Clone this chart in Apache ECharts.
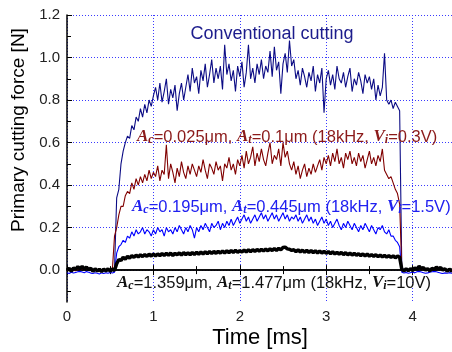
<!DOCTYPE html>
<html>
<head>
<meta charset="utf-8">
<script src="https://cdn.jsdelivr.net/npm/echarts@6/dist/echarts.min.js"></script>
<style>html,body{margin:0;padding:0;background:#fff}#c{width:452px;height:352px}</style>
</head>
<body>
<div id="c"></div>
<script>
// sample times [ms]
const time = [0,0.025,0.05,0.075,0.1,0.125,0.15,0.175,0.2,0.225,0.25,0.275,0.3,0.325,0.35,0.375,0.4,0.425,0.45,0.475,
0.5,0.525,0.55,0.575,0.6,0.625,0.65,0.675,0.7,0.725,0.75,0.775,0.8,0.825,0.85,0.875,0.9,0.925,0.95,0.975,
1,1.025,1.05,1.075,1.1,1.125,1.15,1.175,1.2,1.225,1.25,1.275,1.3,1.325,1.35,1.375,1.4,1.425,1.45,1.475,
1.5,1.525,1.55,1.575,1.6,1.625,1.65,1.675,1.7,1.725,1.75,1.775,1.8,1.825,1.85,1.875,1.9,1.925,1.95,1.975,
2,2.025,2.05,2.075,2.1,2.125,2.15,2.175,2.2,2.225,2.25,2.275,2.3,2.325,2.35,2.375,2.4,2.425,2.45,2.475,
2.5,2.525,2.55,2.575,2.6,2.625,2.65,2.675,2.7,2.725,2.75,2.775,2.8,2.825,2.85,2.875,2.9,2.925,2.95,2.975,
3,3.025,3.05,3.075,3.1,3.125,3.15,3.175,3.2,3.225,3.25,3.275,3.3,3.325,3.35,3.375,3.4,3.425,3.45,3.475,
3.5,3.525,3.55,3.575,3.6,3.625,3.65,3.675,3.7,3.725,3.75,3.775,3.8,3.825,3.85,3.875,3.9,3.925,3.95,3.975,
4,4.025,4.05,4.075,4.1,4.125,4.15,4.175,4.2,4.225,4.25,4.275,4.3,4.325,4.35,4.375,4.4,4.425,4.45,4.475,4.5];

// Conventional cutting
const conventional = [0.002,-0.003,0.004,0.001,-0.002,0.005,0.008,0.006,0.003,0.007,0.004,0.001,-0.002,0.002,0.0,-0.004,0.001,-0.003,0.002,-0.001,0.003,0.0,0.004,
0.34,0.38,0.5,0.56,0.6,0.63,0.62,0.68,0.66,0.72,0.7,0.76,0.72,0.78,0.74,0.8,0.77,0.82,
0.86,0.8,0.88,0.79,0.84,0.9,0.78,0.85,0.81,0.87,0.75,0.83,0.88,0.8,0.86,0.92,
0.84,0.95,0.88,0.91,0.83,0.94,0.89,0.97,0.86,0.92,0.99,0.88,0.95,0.9,0.96,0.85,1.06,0.92,0.97,0.89,0.94,0.84,0.96,0.91,0.98,0.86,0.93,1.06,0.9,0.95,
0.88,0.97,0.92,0.99,0.9,0.96,0.93,1.03,0.91,1.05,0.94,0.98,0.83,0.97,1.02,0.93,1.08,0.96,0.99,0.9,0.94,0.87,0.95,0.91,0.86,0.93,0.89,0.96,0.84,0.92,0.88,0.95,0.74,0.9,
0.94,0.87,0.92,0.85,0.96,0.9,0.88,0.93,0.86,0.91,0.95,0.84,0.9,0.87,0.93,0.89,0.83,0.92,0.88,0.91,0.85,0.9,0.8,0.87,
0.82,0.86,1.02,0.8,0.78,0.8,0.76,0.79,0.77,0.75,
0.01,0.003,-0.002,0.004,0.001,0.005,0.002,0.006,0.009,0.011,0.007,0.004,0.001,0.003,0.005,0.008,0.01,0.007,0.004,0.002,-0.001,0.001,0.003,0.002,0.0,0.001];

// Ac=0.025um, At=0.1um (18kHz, Vi=0.3V)
const vib03 = [0.001,-0.002,0.003,0.0,-0.003,0.004,0.006,0.005,0.002,0.006,0.003,0.0,-0.003,0.001,-0.001,-0.004,0.0,-0.002,0.002,-0.002,0.002,0.0,
0.16,0.2,0.26,0.3,0.3,0.35,0.37,0.36,0.41,0.38,0.43,0.4,0.44,0.41,0.45,0.42,0.47,0.43,0.46,
0.44,0.49,0.42,0.47,0.45,0.59,0.43,0.5,0.46,0.41,0.48,0.44,0.51,0.46,0.43,0.49,0.45,0.5,0.47,0.44,0.49,0.46,0.52,0.47,0.43,0.5,0.48,0.45,0.51,0.47,0.49,0.42,0.5,0.48,0.53,0.47,0.5,0.45,0.52,0.49,
0.54,0.48,0.56,0.5,0.53,0.58,0.49,0.55,0.51,0.57,0.52,0.49,0.55,0.6,0.5,0.54,0.52,0.57,0.49,0.6,0.53,0.56,0.5,
0.47,0.51,0.45,0.49,0.43,0.47,0.5,0.44,0.48,0.45,0.5,0.46,0.49,0.52,0.47,0.53,0.5,
0.54,0.49,0.55,0.51,0.57,0.5,0.53,0.48,0.55,0.52,0.56,0.5,0.53,0.49,0.55,0.51,0.54,0.48,0.52,0.56,0.5,0.53,0.49,0.54,0.51,0.57,0.47,
0.45,0.43,0.44,0.41,0.38,0.36,0.31,
0.002,-0.001,0.003,0.0,0.002,-0.002,0.004,0.007,0.009,0.006,0.003,0.0,-0.002,0.001,0.004,0.006,0.008,0.005,0.002,0.0,-0.002,0.0,0.002,0.001,-0.001,0.0];

// Ac=0.195um, At=0.445um (18kHz, Vi=1.5V)
const vib15 = [-0.012,-0.016,-0.01,-0.014,-0.011,-0.008,-0.006,-0.009,-0.012,-0.007,-0.01,-0.014,-0.016,-0.012,-0.015,-0.018,-0.013,-0.016,-0.012,-0.015,-0.011,-0.014,-0.01,
0.08,0.11,0.12,0.14,0.13,0.16,0.15,0.18,0.16,0.19,0.17,0.18,0.2,0.17,0.19,0.18,0.16,0.19,
0.17,0.2,0.18,0.19,0.16,0.2,0.18,0.19,0.17,0.2,0.18,0.21,0.19,0.17,0.2,0.18,0.21,0.19,0.15,0.2,0.18,0.21,0.19,0.22,0.2,0.18,0.22,0.2,0.21,0.23,0.19,0.22,0.2,0.23,0.21,0.24,
0.21,0.23,0.25,0.22,0.24,0.26,0.23,0.25,0.22,0.24,0.26,0.23,0.25,0.27,0.24,0.26,0.23,0.25,0.27,0.24,0.26,0.23,0.25,0.27,0.24,0.26,0.23,0.25,0.24,0.26,0.23,0.25,0.22,0.24,0.26,0.23,0.25,0.22,0.24,0.21,0.23,0.25,0.22,0.24,
0.21,0.23,0.2,0.22,0.24,0.21,0.19,0.22,0.2,0.23,0.21,0.19,0.22,0.2,0.18,0.21,0.19,0.22,0.2,0.18,0.21,0.19,0.17,0.2,0.19,0.21,0.18,0.17,0.19,0.16,0.16,0.14,0.13,0.11,
-0.01,-0.014,-0.011,-0.015,-0.012,-0.009,-0.013,-0.008,-0.006,-0.009,-0.012,-0.015,-0.013,-0.01,-0.008,-0.006,-0.008,-0.011,-0.014,-0.016,-0.013,-0.015,-0.012,-0.014,-0.016,-0.013];

// Ac=1.359um, At=1.477um (18kHz, Vi=10V)
const vib10 = [0.0,0.008,-0.005,0.01,0.004,0.016,0.006,0.018,0.005,0.014,0.002,0.009,-0.006,0.006,-0.004,0.004,-0.007,0.005,-0.004,0.006,-0.005,0.005,-0.002,
0.03,0.05,0.045,0.06,0.052,0.064,0.057,0.068,0.06,0.07,0.062,0.072,0.064,0.073,0.065,0.075,0.066,0.076,
0.067,0.076,0.068,0.078,0.069,0.079,0.07,0.08,0.069,0.079,0.072,0.081,0.071,0.082,0.073,0.081,0.072,0.083,0.074,0.084,0.075,0.085,0.076,0.086,0.077,0.087,0.078,0.088,0.079,0.089,0.08,0.09,0.081,0.091,0.082,0.092,0.083,0.093,0.084,0.091,
0.085,0.094,0.086,0.095,0.087,0.096,0.088,0.097,0.089,0.098,0.09,0.099,0.091,0.1,0.092,0.101,0.093,0.102,0.096,0.106,0.108,0.1,0.098,0.093,0.096,
0.087,0.095,0.086,0.094,0.084,0.093,0.083,0.092,0.082,0.091,0.081,0.09,0.08,0.089,0.079,0.087,0.077,0.086,0.076,0.084,0.075,0.083,0.073,0.082,0.072,0.08,0.071,0.079,0.07,0.077,0.068,0.076,0.067,0.075,0.066,0.073,0.065,0.072,0.063,0.071,0.062,0.069,0.061,0.068,0.06,0.067,0.058,0.066,0.06,
0.004,-0.004,0.006,-0.003,0.007,-0.002,0.01,0.005,0.018,0.008,0.012,0.0,0.006,-0.004,0.008,0.003,0.014,0.006,0.012,0.0,0.006,-0.005,0.004,-0.003,0.005,0.0];

const yMajor = [0, 0.2, 0.4, 0.6, 0.8, 1.0, 1.2];
const yMinor = [-0.1, 0.1, 0.3, 0.5, 0.7, 0.9, 1.1];

const pairs = v => time.map((t, i) => [t, v[i]]);

const FONT = 'Liberation Sans, Arial, sans-serif';
const SERIF = 'Liberation Serif, Times New Roman, serif';
const gridLine = { show: true, lineStyle: { color: '#3a3aff', type: [1, 2], width: 1 } };

function xAx(pos, labels, split) {
  return {
    type: 'value', position: pos, min: 0, max: 5, interval: 1,
    axisLine: { show: true, lineStyle: { color: '#000', width: 1.5 } },
    axisTick: { show: true, inside: true, length: 5, lineStyle: { color: '#000', width: 1 } },
    minorTick: { show: true, splitNumber: 2, length: 4, lineStyle: { color: '#000', width: 1 } },
    axisLabel: { show: labels, margin: 7, fontSize: 15, color: '#222', fontFamily: FONT, showMaxLabel: false },
    splitLine: split ? gridLine : { show: false }
  };
}

const chart = echarts.init(document.getElementById('c'), null, { renderer: 'canvas' });
const mk = (name, data, color, w, z) => ({
  name, type: 'line', data: pairs(data), showSymbol: false, symbol: 'none',
  lineStyle: { color, width: w }, itemStyle: { color }, z, animation: false, clip: true
});

function richLabel(x, y, color, text) {
  return {
    type: 'text', x, y, z: 100,
    style: {
      text, fill: color, align: 'left', verticalAlign: 'middle',
      fontFamily: FONT, fontSize: 16.5,
      rich: {
        n: { fontFamily: FONT, fontSize: 16.5, fill: color },
        A: { fontFamily: SERIF, fontWeight: 'bold', fontStyle: 'italic', fontSize: 17, fill: color },
        s: { fontFamily: SERIF, fontWeight: 'bold', fontStyle: 'italic', fontSize: 12, fill: color, verticalAlign: 'bottom' }
      }
    }
  };
}

chart.setOption({
  animation: false,
  grid: { left: 67, top: 15, width: 432, height: 287, containLabel: false, outerBoundsMode: 'none' },
  xAxis: [xAx('bottom', true, true), xAx('top', false, false)],
  yAxis: [
    {
      type: 'value', position: 'left', min: -0.15, max: 1.2,
      axisLine: { show: true, lineStyle: { color: '#000', width: 1.5 } },
      axisTick: { show: true, inside: true, length: 5, customValues: yMajor, lineStyle: { color: '#000', width: 1 } },
      axisLabel: { show: true, customValues: yMajor, margin: 7, fontSize: 15, color: '#222', fontFamily: FONT,
        formatter: v => v.toFixed(1) },
      splitLine: gridLine
    },
    {
      type: 'value', position: 'left', offset: 0, min: -0.15, max: 1.2,
      axisLine: { show: false },
      axisTick: { show: true, inside: true, length: 4, customValues: yMinor, lineStyle: { color: '#000', width: 1 } },
      axisLabel: { show: false },
      splitLine: { show: false }
    }
  ],
  series: [
    mk('Conventional cutting', conventional, '#0c0c85', 1.1, 2),
    mk('Vi=0.3V', vib03, '#800000', 1.1, 3),
    mk('Vi=1.5V', vib15, '#0000ff', 1.1, 4),
    mk('Vi=10V', vib10, '#000000', 3.5, 5)
  ],
  graphic: [
    { type: 'text', x: 272, y: 34, z: 100, style: { text: 'Conventional cutting', fill: '#1c1c8c', fontFamily: FONT, fontSize: 18, align: 'center', verticalAlign: 'middle' } },
    richLabel(137, 137, '#8b1a1a', '{A|A}{s|c}{n|=0.025μm, }{A|A}{s|t}{n|=0.1μm (18kHz, }{A|V}{s|i}{n|=0.3V)}'),
    richLabel(132, 207, '#2020f0', '{A|A}{s|c}{n|=0.195μm, }{A|A}{s|t}{n|=0.445μm (18kHz, }{A|V}{s|i}{n|=1.5V)}'),
    richLabel(117, 283, '#111111', '{A|A}{s|c}{n|=1.359μm, }{A|A}{s|t}{n|=1.477μm (18kHz, }{A|V}{s|i}{n|=10V)}'),
    { type: 'text', x: 260, y: 338, style: { text: 'Time [ms]', fill: '#000', fontFamily: FONT, fontSize: 22, align: 'center', verticalAlign: 'middle' } },
    { type: 'text', x: 19, y: 130, rotation: Math.PI / 2, style: { text: 'Primary cutting force [N]', fill: '#000', fontFamily: FONT, fontSize: 19, align: 'center', verticalAlign: 'middle' } }
  ]
});
</script>
</body>
</html>
